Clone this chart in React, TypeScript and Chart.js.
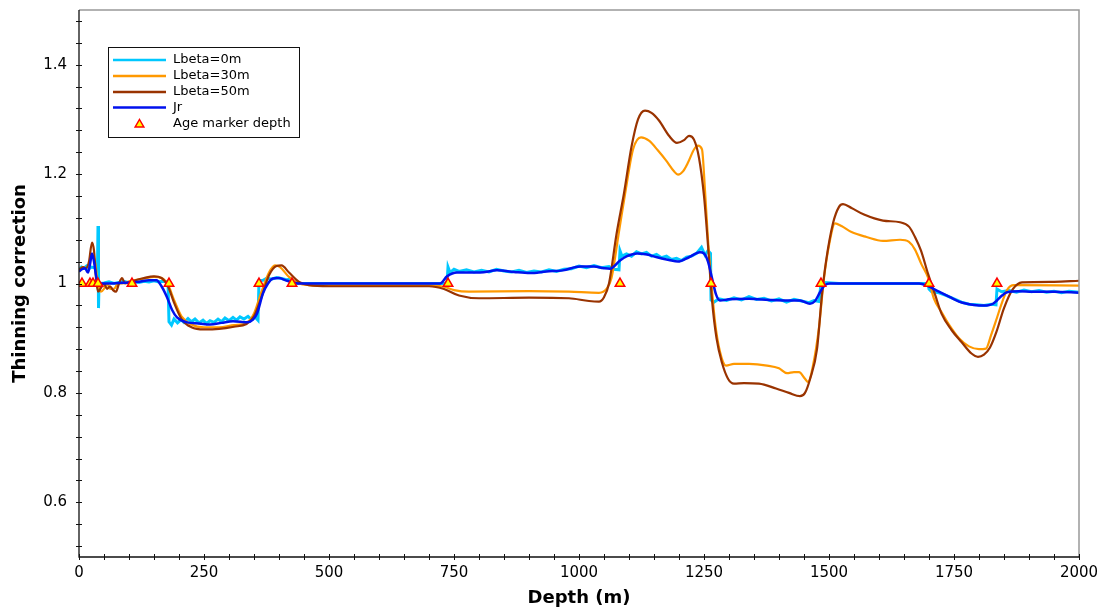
import React, { useEffect, useRef } from "react";
import { Chart, registerables } from "chart.js";

Chart.register(...registerables);

// ---------- Data ----------
// Lbeta = 0 m (raw, noisy step-like)
const depthL0 = [
  0, 5, 10, 15, 20, 25, 30, 35, 37, 38, 39, 40, 50, 60, 70, 80, 90, 100, 110, 120, 130, 140, 150, 160, 170, 178,
  180, 185, 190, 197, 204, 210, 218, 225, 232, 240, 248, 255, 262, 270, 278, 285, 292, 300, 308, 315, 322, 330,
  338, 345, 352, 358, 360, 368, 376, 385, 395, 405, 415, 425, 426, 500, 600, 700, 736, 738, 742, 750, 760, 775,
  790, 805, 820, 835, 850, 865, 880, 895, 910, 925, 940, 955, 970, 985, 1000, 1015, 1030, 1045, 1060, 1070, 1080,
  1082, 1086, 1095, 1105, 1115, 1125, 1135, 1145, 1155, 1165, 1175, 1185, 1195, 1205, 1215, 1225, 1235, 1245,
  1252, 1258, 1263, 1264, 1270, 1280, 1295, 1310, 1325, 1340, 1355, 1370, 1385, 1400, 1415, 1430, 1445, 1460,
  1470, 1480, 1484, 1490, 1520, 1600, 1698, 1700, 1705, 1720, 1735, 1750, 1765, 1780, 1795, 1810, 1825, 1834,
  1836, 1845, 1860, 1875, 1890, 1905, 1920, 1935, 1950, 1965, 1980, 2000,
];
const valL0 = [
  1.025, 1.03, 1.028, 1.032, 1.027, 1.03, 1.029, 1.03, 1.03, 1.105, 0.955, 1.0, 1.001, 1.003, 1.0, 1.002, 1.004,
  1.001, 1.003, 1.002, 1.004, 1.003, 1.005, 1.003, 1.004, 1.003,
  0.93, 0.924, 0.935, 0.928, 0.934, 0.929, 0.936, 0.93, 0.935, 0.928, 0.933, 0.927, 0.932, 0.929, 0.935, 0.93,
  0.937, 0.932, 0.938, 0.933, 0.939, 0.935, 0.94, 0.934, 0.939, 0.933,
  1.005, 1.006, 1.01, 1.008, 1.011, 1.009, 1.007, 1.008, 1.0, 1.0, 1.0, 1.0, 1.0, 1.03, 1.02, 1.026, 1.022, 1.025,
  1.021, 1.024, 1.021, 1.026, 1.023, 1.021, 1.024, 1.02, 1.023, 1.021, 1.025, 1.022, 1.026, 1.027, 1.032, 1.029,
  1.033, 1.029, 1.031, 1.026, 1.025,
  1.06, 1.05, 1.054, 1.05, 1.058, 1.054, 1.057, 1.05, 1.053, 1.047, 1.05, 1.044, 1.046, 1.042, 1.048, 1.05, 1.055,
  1.066, 1.052, 1.06, 1.055, 0.97, 0.966, 0.972, 0.969, 0.974, 0.97, 0.976, 0.971, 0.973, 0.968, 0.972, 0.966,
  0.971, 0.968, 0.965, 0.969, 0.967, 1.0, 1.002, 1.0, 1.0, 1.0, 0.99, 0.985, 0.983, 0.978, 0.972, 0.966, 0.962,
  0.961, 0.96, 0.962, 0.961,
  0.99, 0.985, 0.987, 0.984, 0.988, 0.985, 0.987, 0.984, 0.986, 0.983, 0.986, 0.984,
];

// Lbeta = 30 m
const depthL30 = [
  0, 8, 14, 20, 26, 32, 38, 44, 50, 56, 62, 70, 78, 86, 100, 130, 150, 165, 178, 190, 205, 225, 250, 280, 310,
  335, 350, 365, 380, 392, 402, 420, 440, 460, 500, 600, 700, 730, 750, 780, 900, 980, 1040, 1055, 1065, 1080,
  1095, 1108, 1124, 1140, 1158, 1174, 1190, 1198, 1208, 1218, 1230, 1238, 1246, 1252, 1258, 1264, 1272, 1282,
  1294, 1310, 1340, 1376, 1400, 1416, 1430, 1440, 1452, 1458, 1468, 1480, 1490, 1500, 1512, 1525, 1545, 1575,
  1608, 1642, 1660, 1672, 1685, 1698, 1710, 1725, 1740, 1760, 1780, 1800, 1814, 1824, 1834, 1846, 1856, 1870,
  2000,
];
const valL30 = [
  1.025, 1.03, 1.028, 1.035, 1.05, 1.04, 1.0, 0.985, 0.99, 1.0, 0.99, 0.99, 1.0, 1.0, 1.004, 1.009, 1.012, 1.01,
  0.998, 0.97, 0.94, 0.925, 0.92, 0.92, 0.924, 0.928, 0.945, 0.985, 1.02, 1.033, 1.03, 1.012, 1.0, 0.997, 0.996,
  0.996, 0.996, 0.994, 0.988, 0.985, 0.986, 0.985, 0.983, 0.99, 1.01, 1.095, 1.18, 1.245, 1.267, 1.261, 1.243,
  1.225, 1.205, 1.199, 1.205, 1.221, 1.245, 1.252, 1.245, 1.17, 1.08, 1.01, 0.93, 0.875, 0.85, 0.853, 0.853,
  0.85, 0.845, 0.836, 0.838, 0.838, 0.826, 0.82, 0.85, 0.92, 1.01, 1.07, 1.11, 1.105, 1.094, 1.085, 1.078, 1.08,
  1.076, 1.062, 1.035, 1.011, 0.972, 0.948, 0.925, 0.9, 0.885, 0.88, 0.881, 0.905, 0.932, 0.965, 0.988, 0.997,
  0.996,
];

// Lbeta = 50 m
const depthL50 = [
  0, 8, 14, 20, 26, 30, 34, 38, 44, 50, 56, 62, 68, 74, 80, 86, 92, 100, 110, 130, 150, 165, 178, 190, 205, 225,
  250, 280, 310, 335, 350, 365, 380, 395, 405, 420, 440, 460, 500, 600, 700, 730, 760, 800, 900, 980, 1020, 1040,
  1050, 1060, 1075, 1090, 1105, 1118, 1132, 1145, 1160, 1180, 1196, 1210, 1220, 1230, 1240, 1250, 1258, 1266,
  1275, 1286, 1298, 1310, 1330, 1360, 1394, 1420, 1442, 1452, 1462, 1476, 1486, 1494, 1508, 1520, 1528, 1545,
  1570, 1608, 1642, 1660, 1672, 1684, 1698, 1712, 1725, 1745, 1765, 1785, 1798, 1810, 1822, 1835, 1850, 1868,
  1886, 1950, 2000,
];
const valL50 = [
  1.025, 1.03, 1.028, 1.04, 1.075, 1.06, 1.01, 0.985, 0.992, 1.0, 0.99, 0.995, 0.988, 0.985, 1.0, 1.01, 1.0,
  1.002, 1.005, 1.01, 1.013, 1.01, 0.995, 0.965, 0.935, 0.92, 0.916, 0.917, 0.921, 0.926, 0.94, 0.975, 1.015,
  1.032, 1.033, 1.02, 1.003, 0.997, 0.995, 0.995, 0.995, 0.99, 0.978, 0.973, 0.974, 0.973, 0.968, 0.967, 0.975,
  1.0, 1.09, 1.165, 1.25, 1.3, 1.316, 1.312, 1.298, 1.27, 1.257, 1.262, 1.27, 1.263, 1.23, 1.16, 1.07, 0.97, 0.9,
  0.855, 0.826, 0.817, 0.818, 0.817, 0.808, 0.8, 0.794, 0.8, 0.825, 0.88, 0.98, 1.04, 1.11, 1.14, 1.145, 1.138,
  1.126, 1.115, 1.112, 1.104, 1.085, 1.06, 1.018, 0.98, 0.945, 0.915, 0.893, 0.872, 0.866, 0.87, 0.883, 0.912,
  0.955, 0.99, 1.002, 1.003, 1.005,
];

// Jr
const depthJr = [
  0, 6, 12, 18, 22, 26, 30, 34, 38, 44, 60, 80, 100, 120, 140, 155, 165, 176, 186, 196, 216, 240, 262, 285, 308,
  336, 348, 356, 368, 378, 388, 400, 416, 442, 600, 722, 736, 756, 802, 836, 870, 902, 935, 968, 1002, 1030, 1050,
  1062, 1082, 1096, 1116, 1136, 1156, 1180, 1198, 1220, 1242, 1250, 1258, 1266, 1274, 1282, 1300, 1340, 1380,
  1410, 1442, 1462, 1472, 1482, 1492, 1502, 1600, 1680, 1696, 1720, 1742, 1760, 1776, 1800, 1816, 1828, 1836,
  1846, 1856, 1880, 1908, 1950, 2000,
];
const valJr = [
  1.022, 1.026, 1.028, 1.02, 1.035, 1.055, 1.04, 1.015, 1.002, 1.0, 1.0, 1.001, 1.002, 1.003, 1.006, 1.006, 0.995,
  0.975, 0.952, 0.938, 0.929, 0.927, 0.925, 0.928, 0.931, 0.929, 0.934, 0.945, 0.982, 1.0, 1.009, 1.01, 1.005,
  1.0, 1.0, 1.0, 1.013, 1.02, 1.02, 1.024, 1.021, 1.019, 1.022, 1.024, 1.031, 1.031, 1.028, 1.027, 1.042, 1.05,
  1.055, 1.053, 1.048, 1.043, 1.04, 1.048, 1.057, 1.055, 1.04, 1.01, 0.98, 0.969, 0.971, 0.972, 0.97, 0.969,
  0.969, 0.963, 0.968, 0.984, 0.997, 1.0, 1.0, 1.0, 0.996, 0.985, 0.975, 0.967, 0.963, 0.96, 0.96, 0.963, 0.969,
  0.978, 0.984, 0.986, 0.985, 0.985, 0.983,
];

// Age markers
const markerDepths = [6, 22, 28, 38, 106, 180, 360, 426, 738, 1082, 1264, 1484, 1700, 1836];
const markerValues = [1, 1, 1, 1, 1, 1, 1, 1, 1, 1, 1, 1, 1, 1];

// Axis ticks
const xTickLabels = [0, 250, 500, 750, 1000, 1250, 1500, 1750, 2000];
const yTickLabels = [0.6, 0.8, 1, 1.2, 1.4];
const xMinorStep = 50;
const yMinorStep = 0.04;

const seriesNames = ["Lbeta=0m", "Lbeta=30m", "Lbeta=50m", "Jr", "Age marker depth"];
const seriesColors = ["#00C8FF", "#FF9900", "#993300", "#0011EE"];

const FONT = "'DejaVu Sans', 'Liberation Sans', sans-serif";

const toPts = (xs: number[], ys: number[]) => xs.map((x, i) => ({ x, y: ys[i] }));

const zeroPad = (s: any) => {
  s.paddingTop = 0;
  s.paddingBottom = 0;
  s.paddingLeft = 0;
  s.paddingRight = 0;
};

const decorPlugin = {
  id: "decor",
  afterDraw(chart: any) {
    const { ctx, chartArea, scales } = chart;
    const { left, right, top, bottom } = chartArea;
    const xs = scales.x;
    const ys = scales.y;
    ctx.save();
    // top/right frame (gray)
    ctx.strokeStyle = "#999999";
    ctx.lineWidth = 1.5;
    ctx.beginPath();
    ctx.moveTo(left, top);
    ctx.lineTo(right, top);
    ctx.lineTo(right, bottom);
    ctx.stroke();
    // left/bottom axes (black)
    ctx.strokeStyle = "#111111";
    ctx.lineWidth = 1.3;
    ctx.beginPath();
    ctx.moveTo(left, top);
    ctx.lineTo(left, bottom);
    ctx.lineTo(right, bottom);
    ctx.stroke();
    // tick marks crossing axes
    ctx.lineWidth = 1;
    ctx.beginPath();
    for (let d = xs.min; d <= xs.max + 1e-9; d += xMinorStep) {
      const px = Math.round(xs.getPixelForValue(d)) + 0.5;
      ctx.moveTo(px, bottom - 3);
      ctx.lineTo(px, bottom + 3);
    }
    const kStart = Math.ceil(ys.min / yMinorStep - 1e-9);
    const kEnd = Math.floor(ys.max / yMinorStep + 1e-9);
    for (let k = kStart; k <= kEnd; k++) {
      const v = k * yMinorStep;
      if (v <= ys.min + 1e-9) continue;
      const py = Math.round(ys.getPixelForValue(v)) + 0.5;
      ctx.moveTo(left - 3, py);
      ctx.lineTo(left + 3, py);
    }
    ctx.stroke();

    // legend box
    const bx = 108, by = 47, bw = 191, bh = 90;
    ctx.fillStyle = "#ffffff";
    ctx.fillRect(bx, by, bw, bh);
    ctx.strokeStyle = "#111111";
    ctx.lineWidth = 1;
    ctx.strokeRect(bx + 0.5, by + 0.5, bw, bh);
    const rowY = [60, 76, 92, 107.5, 124];
    ctx.font = `13px ${FONT}`;
    ctx.textBaseline = "middle";
    ctx.textAlign = "left";
    for (let i = 0; i < 4; i++) {
      ctx.strokeStyle = seriesColors[i];
      ctx.lineWidth = 2.5;
      ctx.beginPath();
      ctx.moveTo(113, rowY[i]);
      ctx.lineTo(166, rowY[i]);
      ctx.stroke();
      ctx.fillStyle = "#000";
      ctx.fillText(seriesNames[i], 173, rowY[i]);
    }
    // triangle
    const tx = 139.5, ty = 124.5, r = 5;
    ctx.beginPath();
    ctx.moveTo(tx, ty - r);
    ctx.lineTo(tx + r * 0.866, ty + r * 0.5);
    ctx.lineTo(tx - r * 0.866, ty + r * 0.5);
    ctx.closePath();
    ctx.fillStyle = "#FFFF00";
    ctx.fill();
    ctx.strokeStyle = "#FF0000";
    ctx.lineWidth = 1.5;
    ctx.stroke();
    ctx.fillStyle = "#000";
    ctx.fillText(seriesNames[4], 173, rowY[4]);
    ctx.restore();
  },
};

export default function App() {
  const ref = useRef<HTMLCanvasElement>(null);
  useEffect(() => {
    if (!ref.current) return;
    const lineDs = (label: string, pts: any[], color: string, width: number, order: number, smooth: boolean) => ({
      label,
      data: pts,
      borderColor: color,
      backgroundColor: color,
      borderWidth: width,
      pointRadius: 0,
      pointHoverRadius: 0,
      fill: false,
      order,
      tension: smooth ? 0.4 : 0,
      cubicInterpolationMode: smooth ? ("monotone" as const) : ("default" as const),
    });
    const chart = new Chart(ref.current, {
      type: "line",
      data: {
        datasets: [
          lineDs(seriesNames[0], toPts(depthL0, valL0), seriesColors[0], 3, 5, false),
          lineDs(seriesNames[1], toPts(depthL30, valL30), seriesColors[1], 2.2, 4, true),
          lineDs(seriesNames[2], toPts(depthL50, valL50), seriesColors[2], 2.2, 3, true),
          lineDs(seriesNames[3], toPts(depthJr, valJr), seriesColors[3], 2.5, 2, true),
          {
            label: seriesNames[4],
            data: toPts(markerDepths, markerValues),
            showLine: false,
            pointStyle: "triangle",
            pointRadius: 5.5,
            pointHoverRadius: 5.5,
            backgroundColor: "#FFFF00",
            borderColor: "#FF0000",
            borderWidth: 1.5,
            order: 1,
          } as any,
        ],
      },
      options: {
        animation: false,
        responsive: false,
        maintainAspectRatio: false,
        layout: { padding: { top: 10, right: 24, bottom: 0, left: 0 } },
        plugins: {
          legend: { display: false },
          tooltip: { enabled: false },
        },
        events: [],
        scales: {
          x: {
            type: "linear",
            min: 0,
            max: 2000,
            afterFit: (s: any) => {
              s.height = 53;
              zeroPad(s);
            },
            afterBuildTicks: (s: any) => {
              s.ticks = xTickLabels.map((v) => ({ value: v }));
            },
            grid: { display: false, drawTicks: false, tickLength: 0 },
            border: { display: false },
            ticks: {
              color: "#000",
              font: { family: FONT, size: 15 },
              padding: 7,
              maxRotation: 0,
              autoSkip: false,
              callback: (v: any) => String(v),
            },
            title: {
              display: true,
              text: "Depth (m)",
              color: "#000",
              font: { family: FONT, size: 18, weight: "bold" },
              padding: { top: 0, bottom: 1 },
            },
          },
          y: {
            type: "linear",
            min: 0.5,
            max: 1.5,
            afterFit: (s: any) => {
              s.width = 79;
              zeroPad(s);
            },
            afterBuildTicks: (s: any) => {
              s.ticks = yTickLabels.map((v) => ({ value: v }));
            },
            grid: { display: false, drawTicks: false, tickLength: 0 },
            border: { display: false },
            ticks: {
              color: "#000",
              font: { family: FONT, size: 15 },
              padding: 12,
              autoSkip: false,
              callback: (v: any) => String(Math.round(Number(v) * 10) / 10),
            },
            title: {
              display: true,
              text: "Thinning correction",
              color: "#000",
              font: { family: FONT, size: 18, weight: "bold" },
              padding: { top: 10, bottom: 0 },
            },
          },
        },
      },
      plugins: [decorPlugin],
    });
    return () => chart.destroy();
  }, []);
  return (
    <div style={{ position: "fixed", left: 0, top: 0, width: 1103, height: 610, background: "#fff" }}>
      <canvas ref={ref} width={1103} height={610} style={{ display: "block", width: 1103, height: 610 }} />
    </div>
  );
}
